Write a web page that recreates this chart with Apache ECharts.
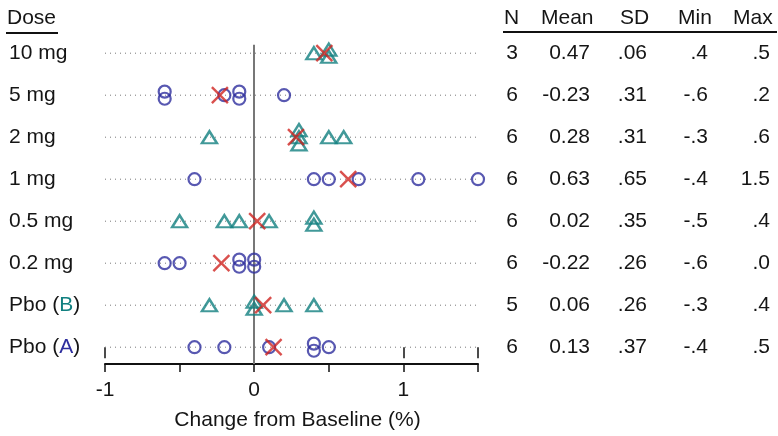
<!DOCTYPE html>
<html>
<head>
<meta charset="utf-8">
<script src="https://cdn.jsdelivr.net/npm/echarts@6/dist/echarts.min.js"></script>
<style>
html,body{margin:0;padding:0;background:#fff;}
#chart{width:778px;height:436px;}
</style>
</head>
<body>
<div id="chart"></div>
<script>
// ---- data ----
const categories = ['10 mg', '5 mg', '2 mg', '1 mg', '0.5 mg', '0.2 mg', 'Pbo (B)', 'Pbo (A)'];
const treatment  = ['B', 'A', 'B', 'A', 'B', 'A', 'B', 'A'];
const v10mg  = [0.4, 0.5, 0.5];
const v5mg   = [-0.6, -0.6, -0.2, -0.1, -0.1, 0.2];
const v2mg   = [-0.3, 0.3, 0.3, 0.3, 0.5, 0.6];
const v1mg   = [-0.4, 0.4, 0.5, 0.7, 1.1, 1.5];
const v05mg  = [-0.5, -0.2, -0.1, 0.1, 0.4, 0.4];
const v02mg  = [-0.6, -0.5, -0.1, -0.1, 0.0, 0.0];
const vPboB  = [-0.3, 0.0, 0.0, 0.2, 0.4];
const vPboA  = [-0.4, -0.2, 0.1, 0.4, 0.4, 0.5];
const groupValues = [v10mg, v5mg, v2mg, v1mg, v05mg, v02mg, vPboB, vPboA];
const means = [0.47, -0.23, 0.28, 0.63, 0.02, -0.22, 0.06, 0.13];
const colN    = ['3', '6', '6', '6', '6', '6', '5', '6'];
const colMean = ['0.47', '-0.23', '0.28', '0.63', '0.02', '-0.22', '0.06', '0.13'];
const colSD   = ['.06', '.31', '.31', '.65', '.35', '.26', '.26', '.37'];
const colMin  = ['.4', '-.6', '-.3', '-.4', '-.5', '-.6', '-.3', '-.4'];
const colMax  = ['.5', '.2', '.6', '1.5', '.4', '.0', '.4', '.5'];
const xTickLabels = [-1, 0, 1];

// ---- style ----
const FONT = 'Liberation Sans, Arial, Helvetica, sans-serif';
const FS = 21;
const TXT = '#151515';
const BLUE = '#2e2e9e';
const TEAL = '#118080';
const RED = '#cf2420';
const nRows = categories.length;
const rowY = i => nRows - 1 - i;
const JIT = 0.17;

// build scatter data with vertical stacking of duplicate values
const circleData = [], triData = [];
groupValues.forEach((vals, i) => {
  const counts = {};
  vals.forEach(v => { counts[v] = (counts[v] || 0) + 1; });
  const seen = {};
  vals.forEach(v => {
    const n = counts[v];
    const k = seen[v] = (seen[v] === undefined ? 0 : seen[v] + 1);
    const off = (k - (n - 1) / 2) * JIT;
    const pt = [v, rowY(i) + off];
    (treatment[i] === 'A' ? circleData : triData).push(pt);
  });
});
const meanData = means.map((m, i) => [m, rowY(i)]);

const guideSeries = categories.map((c, i) => ({
  type: 'line', silent: true, clip: false, symbol: 'none',
  data: [[-1, rowY(i)], [1.65, rowY(i)]],
  lineStyle: { color: '#777', width: 1, type: [1, 4] }, z: 1
}));

const rowLabel = v => {
  const i = nRows - 1 - v;
  const c = categories[i];
  if (c === 'Pbo (B)') return '{n|Pbo (}{b|B}{n|)}';
  if (c === 'Pbo (A)') return '{n|Pbo (}{a|A}{n|)}';
  return '{n|' + c + '}';
};
const rowVals = [0, 1, 2, 3, 4, 5, 6, 7];

function tableAxis(col, margin) {
  return {
    type: 'value', position: 'right', min: -0.4, max: 7.2,
    axisLine: { show: false }, axisTick: { show: false }, splitLine: { show: false },
    axisLabel: {
      customValues: rowVals, align: 'right', margin: margin,
      color: TXT, fontSize: FS, fontFamily: FONT,
      formatter: v => col[nRows - 1 - v]
    }
  };
}

const chart = echarts.init(document.getElementById('chart'));
chart.setOption({
  animation: false,
  backgroundColor: '#fff',
  grid: { left: 105, right: 300, top: 44.8, bottom: 72, outerBoundsMode: 'none', containLabel: false },
  xAxis: [{
    type: 'value', min: -1, max: 1.5, interval: 0.5,
    axisLine: { show: true, onZero: false, lineStyle: { color: '#111', width: 2 } },
    axisTick: { show: true, length: 8, lineStyle: { color: '#111', width: 1.5 } },
    splitLine: { show: false },
    axisLabel: {
      margin: 16, color: TXT, fontSize: FS, fontFamily: FONT,
      formatter: v => xTickLabels.indexOf(v) >= 0 ? String(v) : ''
    },
    name: 'Change from Baseline (%)', nameLocation: 'middle', nameGap: 46,
    nameTextStyle: { color: TXT, fontSize: FS, fontFamily: FONT, padding: [0, 0, 0, 12] }
  }, {
    type: 'value', min: -1, max: 1.5, interval: 1, position: 'bottom',
    axisLine: { show: false }, splitLine: { show: false }, axisLabel: { show: false },
    axisTick: { show: true, length: 11, lineStyle: { color: '#111', width: 1.5 } }
  }],
  yAxis: [{
    type: 'value', min: -0.4, max: 7.2,
    axisLine: { show: false }, axisTick: { show: false }, splitLine: { show: false },
    axisLabel: {
      customValues: rowVals, align: 'left', margin: 96,
      formatter: rowLabel,
      rich: {
        n: { color: TXT, fontSize: FS, fontFamily: FONT },
        a: { color: BLUE, fontSize: FS, fontFamily: FONT },
        b: { color: TEAL, fontSize: FS, fontFamily: FONT }
      }
    }
  },
    tableAxis(colN, 40),
    tableAxis(colMean, 112),
    tableAxis(colSD, 169),
    tableAxis(colMin, 230),
    tableAxis(colMax, 292)
  ],
  graphic: [
    { type: 'text', left: 7, top: 8, style: { text: 'Dose', fill: TXT, font: FS + 'px ' + FONT } },
    { type: 'line', shape: { x1: 6, y1: 33, x2: 58, y2: 33 }, style: { stroke: '#111', lineWidth: 2 } },
    { type: 'text', left: 504, top: 8, style: { text: 'N', fill: TXT, font: FS + 'px ' + FONT } },
    { type: 'text', left: 541, top: 8, style: { text: 'Mean', fill: TXT, font: FS + 'px ' + FONT } },
    { type: 'text', left: 620, top: 8, style: { text: 'SD', fill: TXT, font: FS + 'px ' + FONT } },
    { type: 'text', left: 678, top: 8, style: { text: 'Min', fill: TXT, font: FS + 'px ' + FONT } },
    { type: 'text', left: 733, top: 8, style: { text: 'Max', fill: TXT, font: FS + 'px ' + FONT } },
    { type: 'line', shape: { x1: 503, y1: 32, x2: 777, y2: 32 }, style: { stroke: '#111', lineWidth: 2 } }
  ],
  series: guideSeries.concat([
    {
      type: 'scatter', data: circleData, symbol: 'circle', symbolSize: 12, z: 3,
      itemStyle: { color: 'rgba(0,0,0,0)', borderColor: BLUE, borderWidth: 2.2 },
      markLine: {
        silent: true, symbol: 'none', label: { show: false },
        lineStyle: { color: '#777', width: 2, type: 'solid' },
        data: [{ xAxis: 0 }], z: 2
      }
    },
    {
      type: 'scatter', data: triData, symbol: 'triangle', symbolSize: [15, 12], z: 3,
      itemStyle: { color: 'rgba(0,0,0,0)', borderColor: TEAL, borderWidth: 2.4 }
    },
    {
      type: 'scatter', data: meanData, symbol: 'path://M0,0L10,10M10,0L0,10', symbolSize: 16, z: 4,
      itemStyle: { color: 'none', borderColor: RED, borderWidth: 2.4 }
    }
  ])
});
</script>
</body>
</html>
